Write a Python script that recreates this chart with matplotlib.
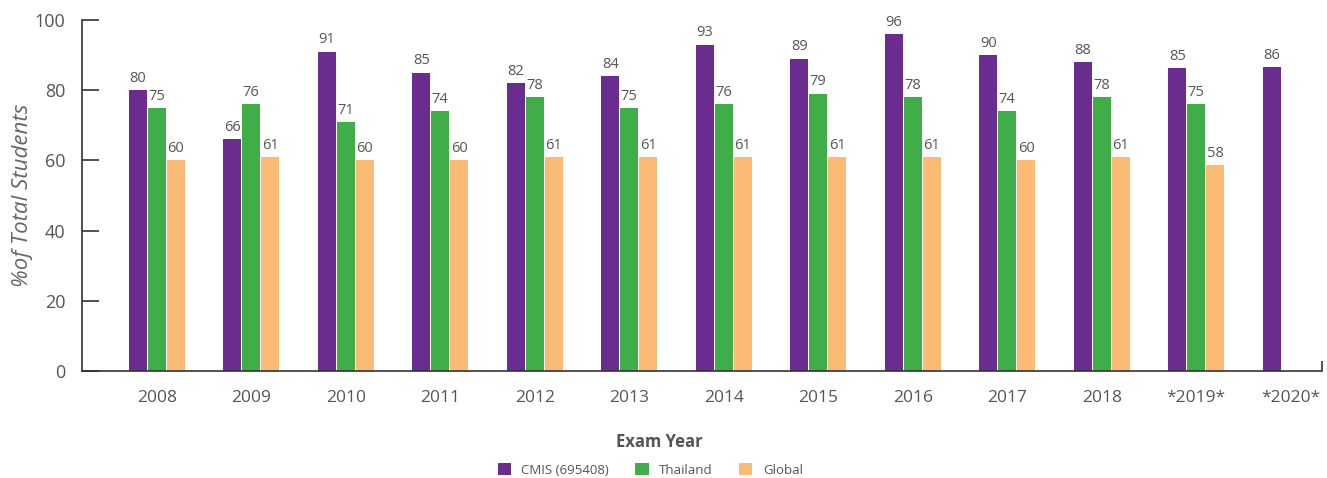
import matplotlib
matplotlib.use('Agg')
import matplotlib.pyplot as plt
import numpy as np

years = ['2008', '2009', '2010', '2011', '2012', '2013', '2014', '2015',
         '2016', '2017', '2018', '*2019*', '*2020*']
cmis = [80, 66, 91, 85, 82, 84, 93, 89, 96, 90, 88, 86.3, 86.6]
thailand = [75, 76, 71, 74, 78, 75, 76, 79, 78, 74, 78, 76, None]
glob = [60, 61, 60, 60, 61, 61, 61, 61, 61, 60, 61, 58.7, None]
cmis_labels = ['80', '66', '91', '85', '82', '84', '93', '89', '96', '90', '88', '85', '86']
thailand_labels = ['75', '76', '71', '74', '78', '75', '76', '79', '78', '74', '78', '75', '']
glob_labels = ['60', '61', '60', '60', '61', '61', '61', '61', '61', '60', '61', '58', '']

plt.rcParams['font.family'] = ['Open Sans', 'DejaVu Sans']
txt = '#555555'

fig = plt.figure(figsize=(13.27, 4.78), dpi=100)
ax = fig.add_axes([0.0618, 0.2238, 0.9344, 0.7344])

x = np.arange(len(years))
w = 0.19
off = 0.2
series = [(cmis, cmis_labels, '#6b2c8f', 'CMIS (695408)', -off),
          (thailand, thailand_labels, '#3fae49', 'Thailand', 0),
          (glob, glob_labels, '#fbbb74', 'Global', off)]

for vals, labs, col, name, dx in series:
    xs = [xi + dx for xi, v in zip(x, vals) if v is not None]
    vs = [v for v in vals if v is not None]
    ax.bar(xs, vs, width=w, color=col, label=name)
    for xi, v, lab in zip(xs, vs, labs):
        ax.text(xi, v + 1.2, lab, ha='center', va='bottom', fontsize=10.5, color=txt)

ax.set_xlim(-0.79, 12.33)
ax.set_ylim(0, 100)
ax.set_yticks([0, 20, 40, 60, 80, 100])
ax.set_xticks(x)
ax.set_xticklabels(years)
ax.tick_params(axis='y', direction='in', length=12, width=1.2, colors='#333333',
               labelcolor=txt, labelsize=13, pad=12)
ax.tick_params(axis='x', length=0, labelcolor=txt, labelsize=12.5, pad=14)
ax.set_xticks([12.33], minor=True)
ax.tick_params(axis='x', which='minor', direction='in', length=7, width=1.2, colors='#333333')
for s in ['top', 'right']:
    ax.spines[s].set_visible(False)
for s in ['left', 'bottom']:
    ax.spines[s].set_color('#333333')
    ax.spines[s].set_linewidth(1.2)

ax.set_ylabel('%of Total Students', fontsize=16, style='italic', color='#666666', labelpad=1)
fig.text(0.497, 0.075, 'Exam Year', ha='center', va='center', fontsize=12,
         fontweight='bold', color=txt)
fig.legend(loc='center', bbox_to_anchor=(0.49, 0.017), ncol=3, frameon=False,
           fontsize=9.5, labelcolor=txt, handlelength=1.0, handleheight=1.0,
           columnspacing=2.0, handletextpad=0.8)

fig.savefig('out.png', dpi=100)
